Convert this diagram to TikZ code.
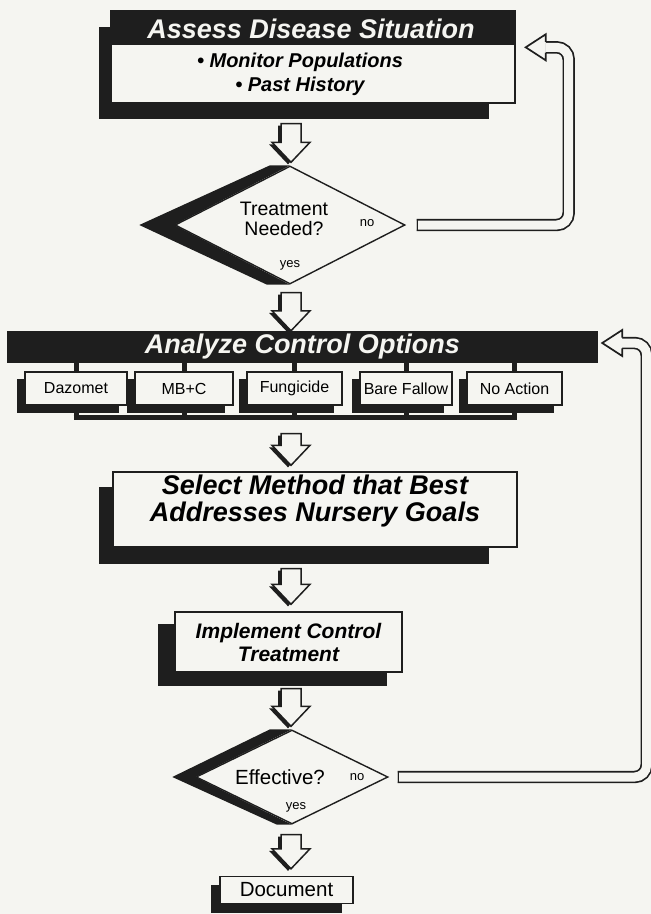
\documentclass[tikz,border=0pt]{standalone}
\usepackage{fontspec}
\setmainfont{Liberation Sans}
\usetikzlibrary{calc,shapes.geometric}

\definecolor{paper}{RGB}{245,245,241}
\definecolor{ink}{RGB}{30,30,30}

\pgfdeclarelayer{back}
\pgfsetlayers{back,main}

\tikzset{
  box/.style={draw=ink, fill=paper, line width=1.4pt, inner sep=0pt},
  shade/.style={fill=ink},
  decision/.style={diamond, draw=ink, fill=paper, line width=1.4pt, inner sep=0pt},
  stub/.style={draw=ink, line width=5pt},
  loopline/.style={draw=ink, line width=1.7pt, double=paper, double distance=9pt, rounded corners=12pt},
  bar/.style={fill=ink, inner sep=0pt, font=\fontsize{27}{27}\selectfont\bfseries\itshape, text=paper},
  headtext/.style={font=\fontsize{27}{27}\selectfont\bfseries\itshape, align=center, inner sep=0pt},
  listtext/.style={font=\fontsize{20}{24}\selectfont\bfseries\itshape, align=center, inner sep=0pt},
  boldtext/.style={font=\fontsize{21}{23}\selectfont\bfseries\itshape, align=center},
  asktext/.style={font=\fontsize{19.5}{19.5}\selectfont, align=center, inner sep=0pt},
  smalltext/.style={font=\fontsize{13}{13}\selectfont, inner sep=0pt},
  optiontext/.style={font=\fontsize{16}{16}\selectfont},
}

% hollow down arrow: #1 top, #2 tip
\newcommand{\hollowdown}[2]{%
  \coordinate (hb) at #2;
  \coordinate (ha0) at #1;
  \coordinate (ha) at (hb |- ha0);
  \fill[ink] ($(ha)+(-13,2)$) -- ($(ha)+(7,2)$) -- ($(hb)+(7,-18)$) -- ($(hb)+(16,-18)$)
    -- ($(hb)+(-3,2)$) -- ($(hb)+(-22,-18)$) -- ($(hb)+(-13,-18)$) -- cycle;
  \draw[ink, fill=paper, line width=1.5pt] ($(ha)+(-10,0)$) -- ($(ha)+(10,0)$) -- ($(hb)+(10,-20)$)
    -- ($(hb)+(19,-20)$) -- (hb) -- ($(hb)+(-19,-20)$) -- ($(hb)+(-10,-20)$) -- cycle;
}

% head of a return loop, pointing left: #1 tip
\newcommand{\hollowleft}[1]{%
  \coordinate (lt) at #1;
  \fill[paper] (lt) -- ($(lt)+(20,-13)$) -- ($(lt)+(20,13)$) -- cycle;
  \draw[ink, line width=1.7pt] ($(lt)+(20,-5.35)$) -- ($(lt)+(20,-13)$) -- (lt)
    -- ($(lt)+(20,13)$) -- ($(lt)+(20,5.35)$);
}

\begin{document}
\begin{tikzpicture}[x=1pt,y=-1pt]
  \useasboundingbox (0,0) rectangle (651,914);
  \coordinate (axis) at (291,0);

  % Assess box
  \node[box, minimum width=404, minimum height=92] (assess) at (313,57) {};
  \fill[ink] (assess.north west) rectangle ($(assess.north east)+(0,35)$);
  \node[headtext, text=paper] (assesstitle) at (311,29) {Assess Disease Situation};
  \node[listtext] (assesslist) at (300,74) {• Monitor Populations\\• Past History};

  % Treatment decision
  \node[decision, minimum width=230, minimum height=118] (treat) at (290,225) {};
  \node[asktext] (treatq) at (284,219) {Treatment\\Needed?};
  \node[smalltext] (treatno) at (367,223) {no};
  \node[smalltext] (treatyes) at (290,265) {yes};

  % Analyze bar and options
  \node[bar, minimum width=591, minimum height=32] (analyze) at (302.5,347) {Analyze Control Options};
  \foreach \name/\cx/\bw/\txt in {daz/76/102/Dazomet, mbc/184/98/MB+C, fung/294.5/95/Fungicide,
      fallow/406/92/Bare Fallow, noact/514.5/95/No Action}
    \node[box, optiontext, minimum width=\bw, minimum height=33] (\name) at (\cx,388.5) {\txt};

  % Select box
  \node[box, minimum width=404, minimum height=75] (select) at (315,509.5) {};
  \node[headtext] (selecttext) at (315,501) {Select Method that Best\\Addresses Nursery Goals};

  % Implement box
  \node[box, boldtext, minimum width=227, minimum height=60] (implement) at (288.5,642) {Implement Control\\Treatment};

  % Effective decision
  \node[decision, minimum width=192, minimum height=94] (effect) at (292,777) {};
  \node[asktext, font=\fontsize{20.5}{20.5}\selectfont] (effectq) at (280,777) {Effective?};
  \node[smalltext] (effectno) at (357,777) {no};
  \node[smalltext] (effectyes) at (296,807) {yes};

  % Document box
  \node[box, asktext, font=\fontsize{20.5}{20.5}\selectfont, minimum width=133, minimum height=27] (doc) at (286.5,890) {Document};

  % Shadows and stubs
  \begin{pgfonlayer}{back}
    \fill[paper] (0,0) rectangle (651,914);
    \fill[shade] ($(assess.north west)+(-11,17)$) rectangle ($(assess.south east)+(-27,15)$);
    \fill[shade] ($(treat.north)+(-20,0)$) -- ($(treat.west)+(-35,0)$) -- ($(treat.south)+(-23,0)$)
      -- (treat.south) -- (treat.west) -- (treat.north) -- cycle;
    \foreach \name in {daz,mbc,fung,fallow,noact}{
      \fill[shade] ($(\name.north west)+(-7,8)$) rectangle ($(\name.south east)+(-9,7)$);
      \draw[stub] (\name.north) -- (\name.north |- analyze.south);
      \draw[stub] (\name.south) -- ($(\name.south)+(0,14)$);
    }
    \draw[stub] ($(daz.south)+(-2.5,12)$) -- ($(noact.south)+(2.5,12)$);
    \fill[shade] ($(select.north west)+(-13,16)$) rectangle ($(select.south east)+(-29,16)$);
    \fill[shade] ($(implement.north west)+(-16,13)$) rectangle ($(implement.south east)+(-16,13)$);
    \fill[shade] ($(effect.north)+(-22,0)$) -- ($(effect.west)+(-23,0)$) -- ($(effect.south)+(-15,0)$)
      -- (effect.south) -- (effect.west) -- (effect.north) -- cycle;
    \fill[shade] ($(doc.north west)+(-8,9)$) rectangle ($(doc.south east)+(-12,9)$);
  \end{pgfonlayer}

  % Down arrows
  \hollowdown{($(assess.south)+(0,20)$)}{($(axis |- treat.north)+(0,-3)$)}
  \hollowdown{($(treat.south)+(0,8)$)}{(axis |- analyze.north)}
  \hollowdown{($(fung.south)+(0,28)$)}{($(axis |- select.north)+(0,-6)$)}
  \hollowdown{($(select.south)+(0,21)$)}{($(axis |- implement.north)+(0,-7)$)}
  \hollowdown{($(implement.south)+(0,16)$)}{($(axis |- effect.north)+(0,-3)$)}
  \hollowdown{($(effect.south)+(0,10)$)}{($(axis |- doc.north)+(0,-7)$)}

  % Loop back to Assess
  \coordinate (back1) at ($(assess.north east)+(10,37)$);
  \draw[loopline] ($(treat.east)+(11,0)$) coordinate (l1s) -- ++(152,0) |- ($(back1)+(20,0)$);
  \draw[ink, line width=1.7pt] ($(l1s)+(0.85,-6.2)$) -- ($(l1s)+(0.85,6.2)$);
  \hollowleft{(back1)}

  % Loop back to Analyze
  \coordinate (back2) at ($(analyze.east)+(4,-4)$);
  \draw[loopline] ($(effect.east)+(9,0)$) coordinate (l2s) -- ++(249,0) |- ($(back2)+(20,0)$);
  \draw[ink, line width=1.7pt] ($(l2s)+(0.85,-6.2)$) -- ($(l2s)+(0.85,6.2)$);
  \hollowleft{(back2)}
\end{tikzpicture}
\end{document}
